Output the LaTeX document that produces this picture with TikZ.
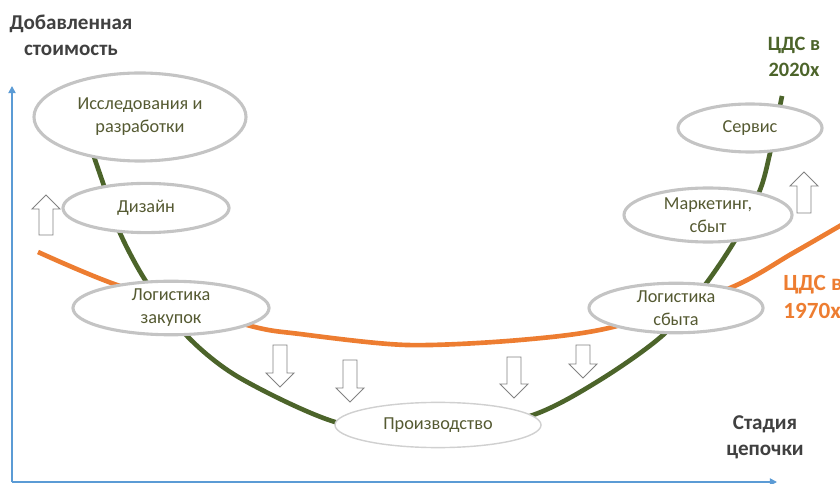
\documentclass[tikz,border=0pt]{standalone}
\usepackage{fontspec}
\setmainfont{Carlito}
\usepackage{tikz}
\usetikzlibrary{shapes.geometric}
\usetikzlibrary{arrows.meta}
\usepackage{xcolor}

\definecolor{chaingreen}{RGB}{76,100,42}
\definecolor{chainorange}{RGB}{237,125,49}
\definecolor{axisblue}{RGB}{91,155,213}
\definecolor{stagegray}{RGB}{196,196,196}
\definecolor{stagetext}{RGB}{85,90,50}
\definecolor{arrowgray}{RGB}{130,130,130}
\definecolor{labelgray}{RGB}{64,64,64}

\tikzset{
  stage/.style={ellipse, draw=stagegray, line width=2.2pt, fill=white, inner sep=0pt,
    align=center, text=stagetext, font=\fontsize{13}{16.5}\selectfont},
  hollow/.style={draw=arrowgray, fill=white, line width=0.6pt},
  axis/.style={draw=axisblue, line width=1.2pt, -{Triangle[length=5pt,width=5pt]}},
  axislabel/.style={inner sep=0pt, align=center, text=labelgray, font=\fontsize{15}{18.5}\selectfont\bfseries},
  curvelabel/.style={inner sep=0pt, align=center, font=\fontsize{14.5}{19}\selectfont\bfseries}
}

\begin{document}
\begin{tikzpicture}[x=0.025cm,y=-0.025cm]
\useasboundingbox (0,0) rectangle (840,484);
% axes
\coordinate (o) at (12,482);
\coordinate (ytop) at (12,86);
\coordinate (xend) at (777,482);
\draw[axis] (o) -- (ytop);
\draw[axis] (o) -- (xend);
% value chains
\draw[chaingreen, line width=3.3pt] plot[smooth] coordinates {(84,128) (103,183) (120,233) (147,283)
  (188,337) (240,378) (335,422) (435,437) (533,415) (600,380) (663,335) (705,285) (737,237)
  (760,190) (770,153) (782,96)};
\draw[chainorange, line width=3.3pt] plot[smooth] coordinates {(38,252) (117,285) (247,325)
  (300,334) (407,345) (520,340) (613,327) (730,288) (793,253) (850,220)};
% stages
\node[stage, minimum width=5.3cm, minimum height=2.2cm] (res) at (140,117) {Исследования и\\разработки};
\node[stage, minimum width=4.15cm, minimum height=1.23cm] (des) at (146,208) {Дизайн};
\node[stage, minimum width=4.9cm, minimum height=1.1cm] (logz) at (171,308) {Логистика\\закупок};
\node[stage, draw=stagegray!80, line width=1pt, minimum width=5.15cm, minimum height=1.13cm] (prod) at (438,425) {Производство};
\node[stage, minimum width=4.35cm, minimum height=1.2cm] (logs) at (676,308) {Логистика\\сбыта};
\node[stage, minimum width=4.2cm, minimum height=1.35cm] (mark) at (708,215) {Маркетинг,\\сбыт};
\node[stage, minimum width=3.6cm, minimum height=1.2cm] (serv) at (750,128) {Сервис};
% shifts
\foreach \x/\t/\s in {280/345/28, 350/360/28, 514/357/27, 583/345/19} {
  \draw[hollow] (\x-7,\t) -- (\x+7,\t) -- (\x+7,\t+\s) -- (\x+14,\t+\s) -- (\x,\t+\s+14)
    -- (\x-14,\t+\s) -- (\x-7,\t+\s) -- cycle;
}
\foreach \x/\t/\b in {46/195/235, 804/172/213} {
  \draw[hollow] (\x-7,\b) -- (\x+7,\b) -- (\x+7,\t+14) -- (\x+14,\t+14) -- (\x,\t)
    -- (\x-14,\t+14) -- (\x-7,\t+14) -- cycle;
}
% labels
\node[axislabel] (yname) at (71,35) {Добавленная\\стоимость};
\node[axislabel] (xname) at (765,437) {Стадия\\цепочки};
\node[curvelabel, text=chaingreen] (new) at (794,57) {ЦДС в\\2020х};
\node[curvelabel, text=chainorange, anchor=west, align=left, font=\fontsize{16.5}{19.5}\selectfont\bfseries] (old) at (783,297) {ЦДС в\\1970х};
\end{tikzpicture}
\end{document}
